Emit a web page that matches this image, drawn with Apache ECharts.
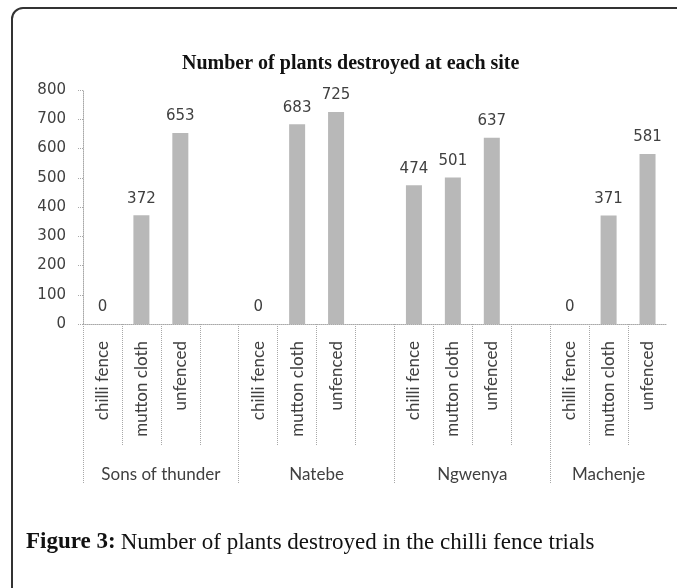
<!DOCTYPE html>
<html>
<head>
<meta charset="utf-8">
<script src="https://cdn.jsdelivr.net/npm/echarts@6/dist/echarts.min.js"></script>
<style>
  html, body { margin: 0; padding: 0; background: #fff; }
  body { position: relative; width: 677px; height: 588px; overflow: hidden; }
  #frame {
    position: absolute; left: 11px; top: 7px; width: 700px; height: 640px;
    border: 2px solid #333; border-top-left-radius: 12px;
  }
  #chart { position: absolute; left: 0; top: 0; width: 677px; height: 588px; }
</style>
</head>
<body>
<div id="frame"></div>
<div id="chart"></div>
<script>
// data
const sites = ['Sons of thunder', 'Natebe', 'Ngwenya', 'Machenje'];
const treatments = ['chilli fence', 'mutton cloth', 'unfenced'];
const sonsOfThunder = [0, 372, 653];
const natebe = [0, 683, 725];
const ngwenya = [474, 501, 637];
const machenje = [0, 371, 581];
const siteValues = [sonsOfThunder, natebe, ngwenya, machenje];

// one empty slot between sites
const categories = [];
const values = [];
const shortTicks = [];
const groupTicks = [];
const groupCenters = [];
sites.forEach(function (site, i) {
  const start = categories.length;
  groupTicks.push(start);
  treatments.forEach(function (t, j) {
    categories.push(t);
    values.push(siteValues[i][j]);
    if (j > 0) shortTicks.push(start + j);
  });
  if (i < sites.length - 1) {
    shortTicks.push(categories.length);
    categories.push('');
    values.push('-');
  }
  groupCenters.push((start + categories.length) / 2);
});
const nSlots = categories.length;

const grey = '#404040';
const dotted = { color: '#a8a8a8', type: 'dotted', width: 1 };

const chart = echarts.init(document.getElementById('chart'));
chart.setOption({
  animation: false,
  title: [
    {
      text: 'Number of plants destroyed at each site',
      left: 177,
      top: 49,
      textStyle: { fontFamily: 'Liberation Serif', fontWeight: 'bold', fontSize: 20, color: '#111' }
    },
    {
      text: '{b|Figure 3:} {r|Number of plants destroyed in the chilli fence trials}',
      left: 21,
      top: 526,
      textStyle: {
        fontWeight: 'normal',
        rich: {
          b: { fontFamily: 'Liberation Serif', fontWeight: 'bold', fontSize: 23, color: '#111' },
          r: { fontFamily: 'Liberation Serif', fontWeight: 'normal', fontSize: 23, color: '#111' }
        }
      }
    }
  ],
  grid: { left: 83, right: 10, top: 90, bottom: 264, containLabel: false },
  xAxis: [
    {
      type: 'category',
      data: categories,
      boundaryGap: true,
      axisLine: { show: true, lineStyle: dotted },
      axisTick: { show: false },
      axisLabel: {
        interval: 0, rotate: 90, margin: 17,
        fontFamily: 'Lato', fontSize: 17, color: grey
      },
      splitLine: { show: false }
    },
    {
      type: 'value',
      position: 'bottom',
      min: 0, max: nSlots,
      axisLine: { show: false },
      axisLabel: { show: false },
      splitLine: { show: false },
      axisTick: { show: true, customValues: shortTicks, length: 121, lineStyle: dotted }
    },
    {
      type: 'value',
      position: 'bottom',
      min: 0, max: nSlots,
      axisLine: { show: false },
      splitLine: { show: false },
      axisTick: { show: true, customValues: groupTicks, length: 159, lineStyle: dotted },
      axisLabel: {
        show: true,
        customValues: groupCenters,
        margin: 142,
        fontFamily: 'Lato', fontSize: 17, color: grey,
        formatter: function (v) {
          const k = groupCenters.indexOf(v);
          return k >= 0 ? sites[k] : '';
        }
      }
    }
  ],
  yAxis: {
    type: 'value',
    min: 0, max: 800, interval: 100,
    axisLine: { show: true, lineStyle: dotted },
    axisTick: { show: true, length: 5, lineStyle: dotted },
    axisLabel: { margin: 17, fontFamily: 'DejaVu Sans', fontSize: 15, color: grey },
    splitLine: { show: false }
  },
  series: [
    {
      type: 'bar',
      data: values,
      barWidth: 16,
      itemStyle: { color: '#b8b8b8' },
      label: {
        show: true, position: 'top', distance: 9,
        fontFamily: 'DejaVu Sans', fontSize: 15, color: grey
      }
    }
  ]
});
</script>
</body>
</html>
